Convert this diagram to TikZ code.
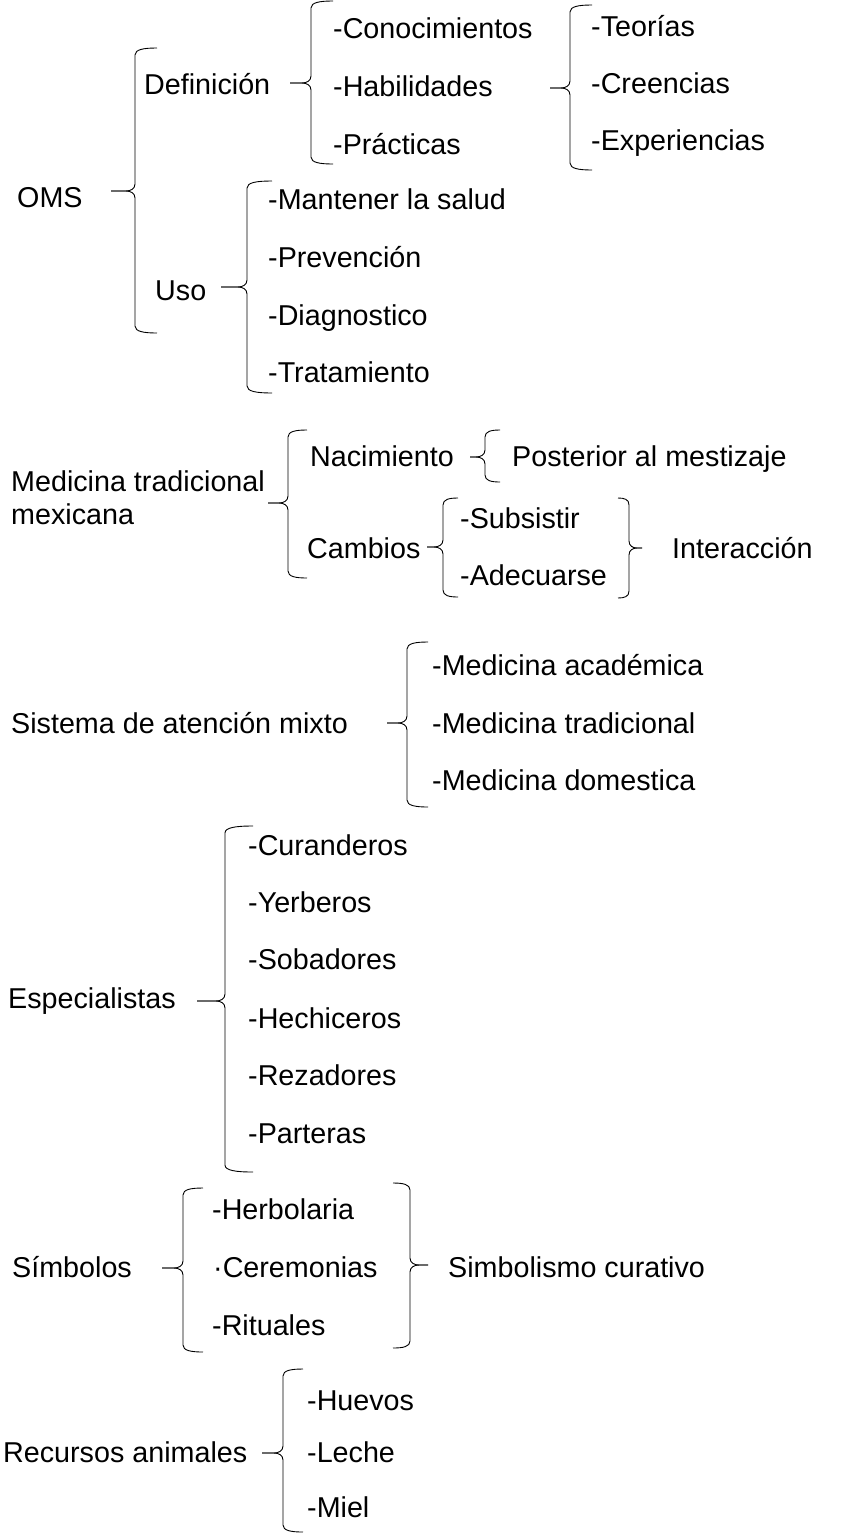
\documentclass[tikz,border=0pt]{standalone}
\usepackage{fontspec}
\setmainfont{Liberation Sans}
\newcommand\mybrace[6]{%
  \pgfmathsetmacro\bt{#3-#1}%
  \pgfmathsetmacro\bc{sign(\bt)*min(9,0.6*abs(\bt))}%
  \pgfmathsetmacro\bd{#2-#1}%
  \pgfmathsetmacro\br{min(7,(#5-#4)/3,(#6-#5)/3)}%
  \draw[brc] ({#1+\bd},{#4}) .. controls ({#1+0.4*\bd},{#4}) and ({#1},{#4+0.2*\br}) .. ({#1},{#4+\br})
    -- ({#1},{#5-\br}) .. controls ({#1},{#5-0.3*\br}) and ({#1+0.5*\bc},{#5}) .. ({#1+\bc},{#5}) -- ({#3},{#5});
  \draw[brc] ({#3},{#5}) -- ({#1+\bc},{#5}) .. controls ({#1+0.5*\bc},{#5}) and ({#1},{#5+0.3*\br}) .. ({#1},{#5+\br})
    -- ({#1},{#6-\br}) .. controls ({#1},{#6-0.2*\br}) and ({#1+0.4*\bd},{#6}) .. ({#1+\bd},{#6});
}
\begin{document}
\begin{tikzpicture}[x=1pt,y=-1pt,
  brc/.style={draw=black,line width=0.9pt,line join=round},
  t/.style={anchor=base west,inner sep=0pt,font=\fontsize{28.7}{33}\selectfont}]
\fill[white] (0,0) rectangle (846,1534);
\useasboundingbox (0,0) rectangle (846,1534);

% OMS
\node[t] (oms) at (17,207) {OMS};
\node[t] (def) at (144,94) {Definición};
\node[t] (uso) at (155,300) {Uso};
\node[t] (con) at (333,38) {-Conocimientos};
\node[t] (hab) at (333,96) {-Habilidades};
\node[t] (pra) at (333,154) {-Prácticas};
\node[t] (teo) at (591,36) {-Teorías};
\node[t] (cre) at (591,93) {-Creencias};
\node[t] (exp) at (591,150) {-Experiencias};
\node[t] (man) at (268,209) {-Mantener la salud};
\node[t] (pre) at (268,267) {-Prevención};
\node[t] (dia) at (268,325) {-Diagnostico};
\node[t] (tra) at (268,382) {-Tratamiento};
\mybrace{135}{157}{111}{48}{191}{333}
\mybrace{311}{333}{290}{1}{83}{164}
\mybrace{570}{592}{550}{5}{88}{170}
\mybrace{247}{272}{221}{181}{287}{393}

% Medicina tradicional mexicana
\node[t,anchor=west,align=left] (mtm) at (11,498) {Medicina tradicional\\mexicana};
\node[t] (nac) at (310,466) {Nacimiento};
\node[t] (pos) at (512,466) {Posterior al mestizaje};
\node[t] (cam) at (307,558) {Cambios};
\node[t] (sub) at (460,528) {-Subsistir};
\node[t] (ade) at (460,585) {-Adecuarse};
\node[t] (int) at (672,558) {Interacción};
\mybrace{288}{307}{268}{430}{503}{578}
\mybrace{485}{500}{470}{430}{457}{482}
\mybrace{443}{458}{427}{498}{547}{597}
\mybrace{629}{618}{642}{498}{548}{598}

% Sistema de atencion mixto
\node[t] (sis) at (11,733) {Sistema de atención mixto};
\node[t] (mac) at (432,675) {-Medicina académica};
\node[t] (mtr) at (432,733) {-Medicina tradicional};
\node[t] (mdo) at (432,790) {-Medicina domestica};
\mybrace{407}{428}{387}{642}{723}{807}

% Especialistas
\node[t] (esp) at (8,1008) {Especialistas};
\node[t] (cur) at (248,855) {-Curanderos};
\node[t] (yer) at (248,912) {-Yerberos};
\node[t] (sob) at (248,969) {-Sobadores};
\node[t] (hec) at (248,1028) {-Hechiceros};
\node[t] (rez) at (248,1085) {-Rezadores};
\node[t] (par) at (248,1143) {-Parteras};
\mybrace{225}{253}{197}{826}{1001}{1172}

% Simbolos
\node[t] (sim) at (12,1277) {Símbolos};
\node[t] (her) at (212,1219) {-Herbolaria};
\node[t] (cer) at (213,1277) {·Ceremonias};
\node[t] (rit) at (212,1335) {-Rituales};
\node[t] (smc) at (448,1277) {Simbolismo curativo};
\mybrace{183}{203}{162}{1188}{1268}{1352}
\mybrace{410}{393}{428}{1183}{1265}{1348}

% Recursos animales
\node[t] (rec) at (3,1462) {Recursos animales};
\node[t] (hue) at (307,1410) {-Huevos};
\node[t] (lec) at (307,1462) {-Leche};
\node[t] (mie) at (307,1517) {-Miel};
\mybrace{283}{303}{262}{1369}{1453}{1532}
\end{tikzpicture}
\end{document}
